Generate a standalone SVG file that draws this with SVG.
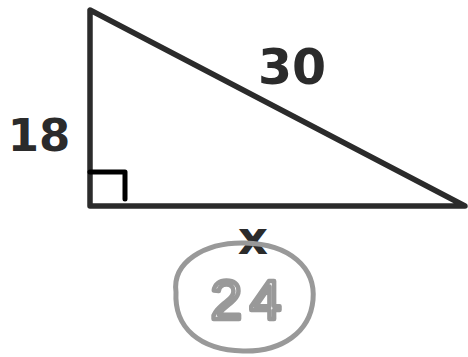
<svg xmlns="http://www.w3.org/2000/svg" width="468" height="357" viewBox="0 0 468 357">
<style>
.edge{fill:none;stroke:#2b2b2b;stroke-width:5.5;stroke-linecap:round;stroke-linejoin:round}
.lbl{font-family:"DejaVu Sans",sans-serif;font-weight:bold;fill:#2b2b2b}
.hand{fill:none;stroke:#999;stroke-width:5;stroke-linecap:round;stroke-linejoin:round}
</style>
<rect width="468" height="357" fill="#fff"/>
<g id="triangle">
<path class="edge" d="M90,10 L90,206 L465,206 Z"/>
<path id="right-angle" d="M90,172 L125,172 L125,199" fill="none" stroke="#000" stroke-width="5" stroke-linecap="round" stroke-linejoin="round"/>
</g>
<g id="labels">
<text class="lbl" x="39" y="151" font-size="45" text-anchor="middle">18</text>
<text class="lbl" x="292" y="84" font-size="49" text-anchor="middle">30</text>
<text class="lbl" x="253" y="254" font-size="47" text-anchor="middle">x</text>
</g>
<g id="answer">
<path class="hand" d="M176,292 C172,262 205,242 245,243 C290,244 316,268 313,300 C310,332 282,352 243,351 C200,350 174,328 176,292 Z"/>
<text x="250" y="319" font-family="'Liberation Sans',sans-serif" font-size="56" letter-spacing="8" text-anchor="middle" fill="none" stroke="#999" stroke-width="4.5" stroke-linejoin="round">24</text>
</g>
</svg>
